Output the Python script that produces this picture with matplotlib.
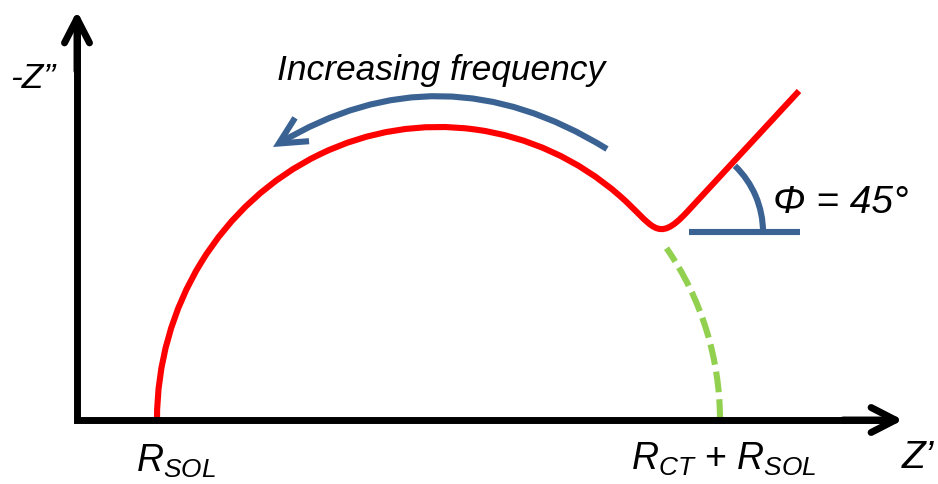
import numpy as np
import matplotlib
matplotlib.use("Agg")
import matplotlib.pyplot as plt
from matplotlib.patches import Arc, PathPatch
from matplotlib.path import Path
from matplotlib.transforms import Affine2D

plt.rcParams['font.family'] = ['Liberation Sans', 'DejaVu Sans']
plt.rcParams['mathtext.fontset'] = 'custom'
plt.rcParams['mathtext.it'] = 'Liberation Sans:italic'
plt.rcParams['mathtext.rm'] = 'Liberation Sans'
plt.rcParams['mathtext.sf'] = 'Liberation Sans'

#### schematic values (1 unit ~ 1 px, origin at the axes corner)

r_sol = 80                  # high frequency intercept
r_ct = 563                  # charge transfer resistance (diameter)
semi_height = 293           # top of the semicircle
arc_end_deg = 50            # red arc leaves the semicircle here
green_end_deg = 37          # dashed continuation of the semicircle
dip_tension = [45, 45]
warburg_start = [610, 208]
warburg_end = [722, 329]

phi_center = [594, 188]
phi_radius = 92
phi_deg = 46
phi_base_x = [612, 723]

freq_start = [530, 271]
freq_end = [196, 273]
freq_rad = 0.305

axis_x_end = 826
axis_y_end = 409

labels_x = ['$R_{SOL}$', '$R_{CT}$ + $R_{SOL}$']
label_z_re = 'Z\u2019'
label_z_im = '-Z\u201d'
label_freq = 'Increasing frequency'
label_phi = '\u03a6 = 45\u00b0'

red = '#ff0000'
blue = '#3a6394'
green = '#92d050'
lw = 4.4

fig = plt.figure(figsize=(9.38, 4.85), dpi=100)
ax = fig.add_axes([0, 0, 1, 1])
ax.set_xlim(-77, 861)
ax.set_ylim(-64, 421)
ax.axis('off')

# axes (square corner) with open arrow heads
ax.plot([0, 0, axis_x_end - 10], [axis_y_end - 10, 0, 0], color='black', lw=5,
        solid_joinstyle='miter', solid_capstyle='butt')
head = "->,head_length=17.5,head_width=9"
for tip, back in [((0, axis_y_end), (0, axis_y_end - 60)),
                  ((axis_x_end, 0), (axis_x_end - 60, 0))]:
    ax.annotate("", xy=tip, xytext=back,
                arrowprops=dict(arrowstyle=head, mutation_scale=1, color='black',
                                lw=5, shrinkA=0, shrinkB=0,
                                capstyle='round', joinstyle='round'))

# semicircle + diffusion tail
cx = r_sol + r_ct / 2.0
a = r_ct / 2.0
b = semi_height
arc = Path.arc(-180, -arc_end_deg).transformed(Affine2D().scale(a, -b).translate(cx, 0))
t = np.radians(arc_end_deg)
p0 = np.array(arc.vertices[-1])
tan0 = np.array([a * np.sin(t), -b * np.cos(t)])
tan0 /= np.hypot(*tan0)
p3 = np.array(warburg_start, dtype=float)
d3 = np.array(warburg_end) - p3
d3 /= np.hypot(*d3)
p1 = p0 + dip_tension[0] * tan0
p2 = p3 - dip_tension[1] * d3
verts = list(arc.vertices) + [p1, p2, p3, warburg_end]
codes = list(arc.codes) + [Path.CURVE4] * 3 + [Path.LINETO]
ax.add_patch(PathPatch(Path(verts, codes), fill=False, edgecolor=red, lw=lw,
                       capstyle='butt', joinstyle='round'))

# dashed part of the semicircle
ax.add_patch(Arc((cx, 0), 2 * a, 2 * b, theta1=0, theta2=green_end_deg,
                 color=green, lw=lw, linestyle=(0, (3.4, 1.15)), capstyle='butt'))

# phase angle
ax.add_patch(Arc(phi_center, 2 * phi_radius, 2 * phi_radius, theta1=0, theta2=phi_deg,
                 color=blue, lw=lw))
ax.plot(phi_base_x, [phi_center[1]] * 2, color=blue, lw=lw, solid_capstyle='butt')

# frequency arrow
ax.annotate("", xy=freq_end, xytext=freq_start,
            arrowprops=dict(arrowstyle="->,head_length=19.5,head_width=9.8",
                            mutation_scale=1, color=blue, lw=lw,
                            connectionstyle="arc3,rad=%.3f" % freq_rad,
                            shrinkA=0, shrinkB=0, capstyle='butt', joinstyle='miter'))

# texts
ax.text(-67, 333, label_z_im, fontsize=25.5, style='italic', ha='left', va='baseline')
ax.text(825, -47, label_z_re, fontsize=28, style='italic', ha='left', va='baseline')
ax.text(364, 341, label_freq, fontsize=25.5, style='italic', ha='center', va='baseline')
ax.text(764, 208, label_phi, fontsize=28, style='italic', ha='center', va='baseline')
ax.text(r_sol + 19, -51, labels_x[0], fontsize=27, ha='center', va='baseline')
ax.text(r_sol + r_ct + 4, -49, labels_x[1], fontsize=27, ha='center', va='baseline')

fig.savefig('out.png', dpi=100)
